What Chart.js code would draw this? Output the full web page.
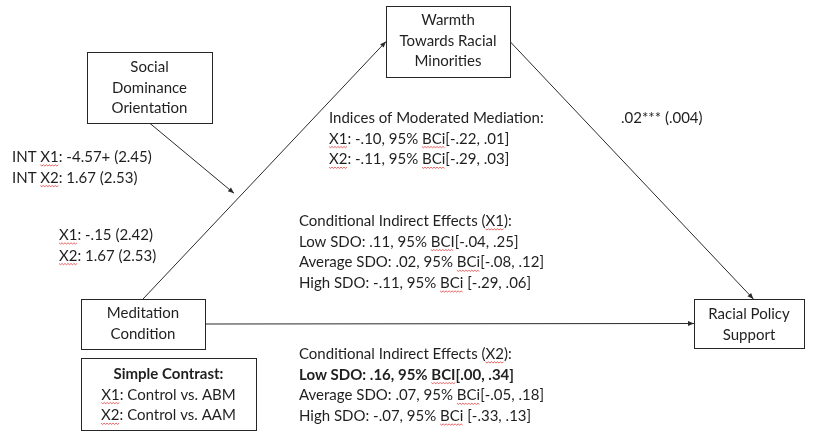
<!DOCTYPE html>
<html>
<head>
<meta charset="utf-8">
<script src="https://cdn.jsdelivr.net/npm/chart.js@4"></script>
<style>
  html, body { margin: 0; padding: 0; background: #fff; }
  canvas { display: block; }
</style>
</head>
<body>
<canvas id="diagrama" width="825" height="431"></canvas>
<script>
// textos do diagrama (~palavra~ = sublinhado ondulado, ^ no início = negrito)
const sdoLabel = ['Social', 'Dominance', 'Orientation'];
const warmthLabel = ['Warmth', 'Towards Racial', 'Minorities'];
const conditionLabel = ['Meditation', 'Condition'];
const outcomeLabel = ['Racial Policy', 'Support'];
const contrastLines = ['^Simple Contrast:', '~X1~: Control vs. ABM', '~X2~: Control vs. AAM'];
const interactionPaths = ['INT ~X1~: -4.57+ (2.45)', 'INT ~X2~: 1.67 (2.53)'];
const aPaths = ['~X1~: -.15 (2.42)', '~X2~: 1.67 (2.53)'];
const bPath = ['.02*** (.004)'];
const modMedIndex = ['Indices of Moderated Mediation:', '~X1~: -.10, 95% ~BCi~[-.22, .01]', '~X2~: -.11, 95% ~BCi~[-.29, .03]'];
const condX1 = ['Conditional Indirect Effects (~X1~):', 'Low SDO: .11, 95% ~BCI~[-.04, .25]', 'Average SDO: .02, 95% ~BCi~[-.08, .12]', 'High SDO: -.11, 95% ~BCi~ [-.29, .06]'];
const condX2 = ['Conditional Indirect Effects (~X2~):', '^Low SDO: .16, 95% ~BCI~[.00, .34]', 'Average SDO: .07, 95% ~BCi~[-.05, .18]', 'High SDO: -.07, 95% ~BCi~ [-.33, .13]'];

// layout (coordenadas do desenho, 825 x 431)
const boxes = {
    sdo: { x: 87, y: 52, w: 125, h: 71 },
    warmth: { x: 386, y: 6, w: 124, h: 71 },
    condition: { x: 81, y: 299, w: 124, h: 50 },
    contrast: { x: 81, y: 358, w: 175, h: 72 },
    outcome: { x: 694, y: 299, w: 110, h: 49 }
};
const FONT = 'Lato, "Open Sans", sans-serif';
const SIZE = 15;
const LINE = 20.7;
const INK = '#1f1f1f';

const b = boxes;
const aStart = { x: b.condition.x + b.condition.w / 2, y: b.condition.y };
const aEnd = { x: b.warmth.x, y: b.warmth.y + b.warmth.h / 2 };
const bStart = { x: b.warmth.x + b.warmth.w, y: b.warmth.y + b.warmth.h / 2 };
const bEnd = { x: b.outcome.x + b.outcome.w * 0.54, y: b.outcome.y };
const cStart = { x: b.condition.x + b.condition.w, y: b.condition.y + b.condition.h / 2 };
const cEnd = { x: b.outcome.x, y: b.outcome.y + b.outcome.h / 2 };
const t = 0.395;
const modStart = { x: b.sdo.x + b.sdo.w / 2, y: b.sdo.y + b.sdo.h };
const onA = { x: aStart.x + (aEnd.x - aStart.x) * t, y: aStart.y + (aEnd.y - aStart.y) * t };
const modEnd = { x: onA.x - 5, y: onA.y - 4 };

function seta(de, ate) {
    return {
        data: [de, ate],
        showLine: true,
        borderColor: '#2a2a2a',
        borderWidth: 1,
        pointRadius: 0
    };
}

function partes(linha) {
    let bold = false;
    if (linha.startsWith('^')) { bold = true; linha = linha.slice(1); }
    const out = [];
    linha.split('~').forEach((s, i) => { if (s) out.push({ t: s, u: i % 2 === 1 }); });
    return { bold, out };
}

function escreve(ctx, linha, x, y, align) {
    const p = partes(linha);
    ctx.font = (p.bold ? 'bold ' : '') + SIZE + 'px ' + FONT;
    let total = 0;
    p.out.forEach(s => total += ctx.measureText(s.t).width);
    let cx = align === 'center' ? x - total / 2 : x;
    ctx.textAlign = 'left';
    ctx.textBaseline = 'middle';
    p.out.forEach(s => {
        const w = ctx.measureText(s.t).width;
        ctx.fillStyle = INK;
        ctx.fillText(s.t, cx, y);
        if (s.u) {
            ctx.save();
            ctx.strokeStyle = '#e23b3b';
            ctx.lineWidth = 0.8;
            ctx.beginPath();
            const yy = y + 8;
            for (let k = 0; k <= w; k += 1.5) {
                const dy = (Math.round(k / 1.5) % 2) ? 1 : -0.2;
                if (k === 0) ctx.moveTo(cx + k, yy + dy); else ctx.lineTo(cx + k, yy + dy);
            }
            ctx.stroke();
            ctx.restore();
        }
        cx += w;
    });
}

const desenho = {
    id: 'desenho',
    afterDatasetsDraw(chart) {
        const ctx = chart.ctx;
        const sx = chart.scales.x, sy = chart.scales.y;
        const X = v => sx.getPixelForValue(v);
        const Y = v => sy.getPixelForValue(v);

        // caixas
        ctx.save();
        ctx.strokeStyle = '#262626';
        ctx.lineWidth = 1;
        Object.values(boxes).forEach(bx => {
            ctx.fillStyle = '#fff';
            ctx.fillRect(X(bx.x), Y(bx.y), X(bx.x + bx.w) - X(bx.x), Y(bx.y + bx.h) - Y(bx.y));
            ctx.strokeRect(Math.round(X(bx.x)) + 0.5, Math.round(Y(bx.y)) + 0.5,
                Math.round(X(bx.x + bx.w) - X(bx.x)), Math.round(Y(bx.y + bx.h) - Y(bx.y)));
        });

        // pontas de seta
        chart.data.datasets.forEach(ds => {
            const a = ds.data[0], c = ds.data[1];
            const x1 = X(a.x), y1 = Y(a.y), x2 = X(c.x), y2 = Y(c.y);
            const ang = Math.atan2(y2 - y1, x2 - x1);
            ctx.fillStyle = '#2a2a2a';
            ctx.beginPath();
            ctx.moveTo(x2, y2);
            ctx.lineTo(x2 - 6 * Math.cos(ang) + 2.5 * Math.sin(ang), y2 - 6 * Math.sin(ang) - 2.5 * Math.cos(ang));
            ctx.lineTo(x2 - 6 * Math.cos(ang) - 2.5 * Math.sin(ang), y2 - 6 * Math.sin(ang) + 2.5 * Math.cos(ang));
            ctx.closePath();
            ctx.fill();
        });

        // textos das caixas
        const centro = (bx, linhas, y0) => linhas.forEach((l, i) => escreve(ctx, l, X(bx.x + bx.w / 2), Y(y0 + i * LINE), 'center'));
        centro(b.sdo, sdoLabel, 67);
        centro(b.warmth, warmthLabel, 20);
        centro(b.condition, conditionLabel, 313);
        centro(b.outcome, outcomeLabel, 314);
        centro(b.contrast, contrastLines, 374);

        // coeficientes
        const bloco = (linhas, x, y0) => linhas.forEach((l, i) => escreve(ctx, l, X(x), Y(y0 + i * LINE), 'left'));
        bloco(interactionPaths, 12, 157);
        bloco(aPaths, 59, 235);
        bloco(bPath, 621, 118);
        bloco(modMedIndex, 329, 118);
        bloco(condX1, 299, 221);
        bloco(condX2, 299, 354);
        ctx.restore();
    }
};

new Chart(document.getElementById('diagrama'), {
    type: 'scatter',
    data: {
        datasets: [
            seta(aStart, aEnd),
            seta(bStart, bEnd),
            seta(cStart, cEnd),
            seta(modStart, modEnd)
        ]
    },
    options: {
        responsive: false,
        animation: false,
        devicePixelRatio: 1,
        layout: { padding: 0 },
        plugins: { legend: { display: false }, tooltip: { enabled: false } },
        scales: {
            x: { type: 'linear', min: 0, max: 825, display: false },
            y: { type: 'linear', min: 0, max: 431, reverse: true, display: false }
        }
    },
    plugins: [desenho]
});
</script>
</body>
</html>
